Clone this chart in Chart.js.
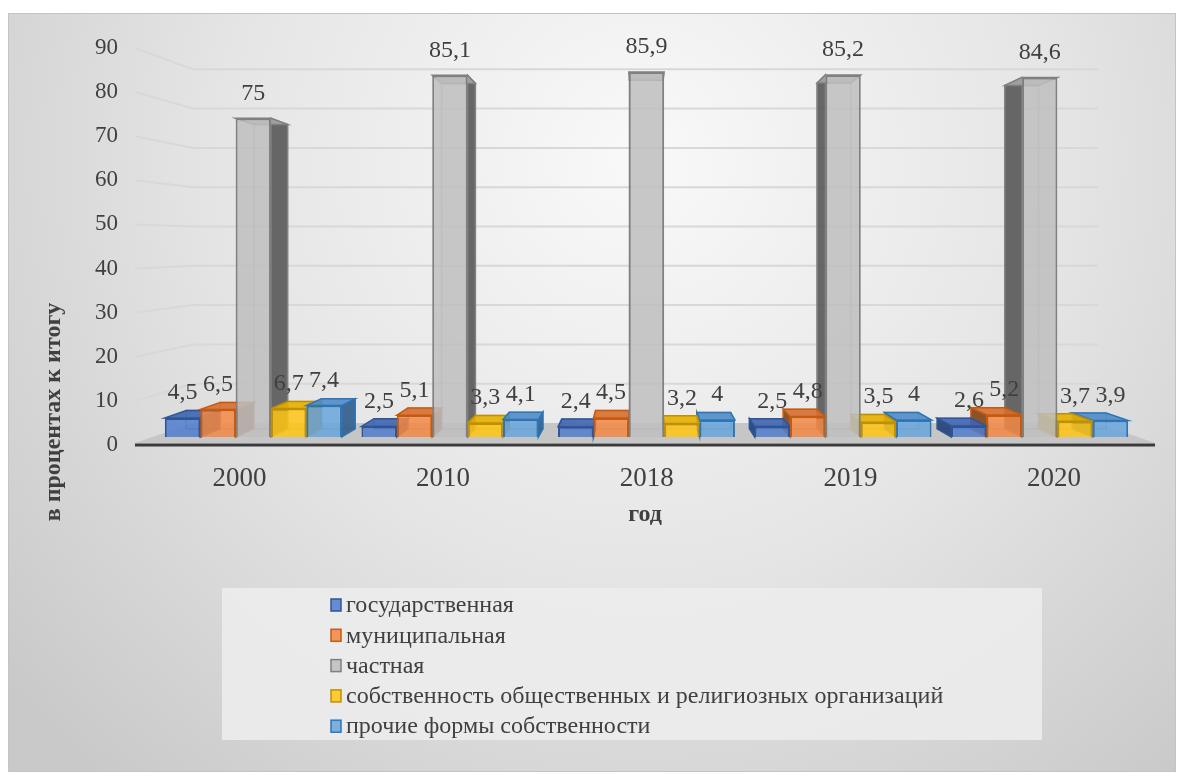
<!DOCTYPE html>
<html lang="ru">
<head>
<meta charset="utf-8">
<title>Формы собственности</title>
<script src="https://cdn.jsdelivr.net/npm/chart.js@4.4.1/dist/chart.umd.min.js"></script>
<style>
  html, body { margin: 0; padding: 0; background: #fff; }
  canvas { display: block; }
</style>
</head>
<body>
<canvas id="grafico" width="1184" height="780"></canvas>
<script>
// datos
var anios = ['2000', '2010', '2018', '2019', '2020'];
var nombres = [
  'государственная',
  'муниципальная',
  'частная',
  'собственность общественных и религиозных организаций',
  'прочие формы собственности'
];
var gosud = [4.5, 2.5, 2.4, 2.5, 2.6];
var munic = [6.5, 5.1, 4.5, 4.8, 5.2];
var chast = [75, 85.1, 85.9, 85.2, 84.6];
var obsch = [6.7, 3.3, 3.2, 3.5, 3.7];
var prochie = [7.4, 4.1, 4, 4, 3.9];
var marcas = [0, 10, 20, 30, 40, 50, 60, 70, 80, 90];
var tituloY = 'в процентах к итогу';
var tituloX = 'год';

var FUENTE = '"Liberation Serif", "Times New Roman", serif';
var TEXTO = '#404040';

// colores: frente, borde, lado, tapa
var estilos = [
  ['rgba(80, 125, 205, 0.86)', '#2f5597', 'rgba(38, 66, 120, 0.92)', 'rgba(62, 100, 175, 0.9)'],
  ['rgba(242, 137, 70, 0.86)', '#c55a11', 'rgba(130, 70, 30, 0.92)', 'rgba(215, 110, 45, 0.9)'],
  ['rgba(190, 190, 190, 0.85)', '#808080', 'rgba(95, 95, 95, 0.95)', 'rgba(165, 165, 165, 0.9)'],
  ['rgba(255, 197, 20, 0.86)', '#bf9000', 'rgba(170, 130, 0, 0.92)', 'rgba(230, 175, 0, 0.9)'],
  ['rgba(105, 165, 220, 0.86)', '#2e75b6', 'rgba(50, 95, 140, 0.92)', 'rgba(80, 140, 200, 0.9)']
];

var PF = { x: 640, y: 255 }; // punto de fuga
var K = 0.045;

function atras(px, py) {
  return [px + K * (PF.x - px), py + K * (PF.y - py)];
}

function poligono(c, pts, relleno, borde) {
  c.beginPath();
  c.moveTo(pts[0][0], pts[0][1]);
  for (var i = 1; i < pts.length; i++) c.lineTo(pts[i][0], pts[i][1]);
  c.closePath();
  c.fillStyle = relleno;
  c.fill();
  c.strokeStyle = borde;
  c.lineWidth = 1.5;
  c.stroke();
}

function coma(v) {
  return String(v).replace('.', ',');
}

var fondo3d = {
  id: 'fondo3d',
  beforeDraw: function (chart) {
    var c = chart.ctx;
    var area = chart.chartArea;
    var yt = chart.scales.yTick, yb = chart.scales.yBack;
    c.save();
    c.fillStyle = '#ffffff';
    c.fillRect(0, 0, chart.width, chart.height);
    var g = c.createRadialGradient(640, 160, 20, 640, 160, 820);
    g.addColorStop(0, '#f8f8f8');
    g.addColorStop(0.5, '#e5e5e5');
    g.addColorStop(1, '#c9c9c9');
    c.fillStyle = g;
    c.fillRect(8, 13, 1168, 759);
    c.strokeStyle = '#c4c4c4';
    c.lineWidth = 1;
    c.strokeRect(8.5, 13.5, 1167, 758);

    // caja de leyenda
    c.fillStyle = 'rgba(236, 236, 236, 0.9)';
    c.fillRect(222, 588, 820, 152);

    // rejilla en perspectiva
    var xa = area.left - 20, xb = area.left + 38, xc = area.right - 40;
    c.strokeStyle = '#d8d8d8';
    c.lineWidth = 2;
    marcas.forEach(function (v) {
      if (v === 0) return;
      c.beginPath();
      c.moveTo(xa, yt.getPixelForValue(v));
      c.lineTo(xb, yb.getPixelForValue(v));
      c.lineTo(xc, yb.getPixelForValue(v));
      c.stroke();
    });

    // piso
    var y0f = yt.getPixelForValue(0), y0b = yb.getPixelForValue(0);
    c.fillStyle = '#c6c6c6';
    c.beginPath();
    c.moveTo(xa, y0f - 2);
    c.lineTo(xb, y0b);
    c.lineTo(xc, y0b);
    c.lineTo(area.right + 17, y0f - 2);
    c.closePath();
    c.fill();
    c.strokeStyle = '#3a3a3a';
    c.lineWidth = 3;
    c.beginPath();
    c.moveTo(xa, y0f);
    c.lineTo(area.right + 17, y0f);
    c.stroke();
    c.restore();
  },

  beforeDatasetsDraw: function (chart) {
    var c = chart.ctx;
    var barras = [];
    chart.data.datasets.forEach(function (ds, d) {
      chart.getDatasetMeta(d).data.forEach(function (el) {
        var p = el.getProps(['x', 'y', 'base', 'width'], true);
        barras.push({ p: p, d: d });
      });
    });
    // las mas lejanas del punto de fuga primero
    barras.sort(function (a, b) {
      return Math.abs(b.p.x - PF.x) - Math.abs(a.p.x - PF.x);
    });
    c.save();
    barras.forEach(function (b) {
      var st = estilos[b.d];
      var l = b.p.x - b.p.width / 2, r = b.p.x + b.p.width / 2;
      var t = b.p.y, bo = b.p.base;
      var tl = atras(l, t), tr = atras(r, t), bl = atras(l, bo), br = atras(r, bo);
      // aristas traseras
      c.strokeStyle = st[1];
      c.globalAlpha = 0.45;
      c.lineWidth = 1.5;
      c.beginPath();
      c.moveTo(tl[0], tl[1]);
      c.lineTo(tr[0], tr[1]);
      c.lineTo(br[0], br[1]);
      c.lineTo(bl[0], bl[1]);
      c.closePath();
      c.stroke();
      c.globalAlpha = 1;
      if (r < PF.x) poligono(c, [[r, t], [r, bo], br, tr], st[2], st[1]);
      if (l > PF.x) poligono(c, [[l, t], [l, bo], bl, tl], st[2], st[1]);
      poligono(c, [[l, t], [r, t], tr, tl], st[3], st[1]);
    });
    c.restore();
  },

  afterDatasetsDraw: function (chart) {
    var c = chart.ctx;
    var xs = chart.scales.x, yt = chart.scales.yTick;
    var area = chart.chartArea;
    c.save();
    c.fillStyle = TEXTO;
    c.textAlign = 'center';
    c.textBaseline = 'middle';

    // etiquetas de datos
    c.font = '24px ' + FUENTE;
    chart.data.datasets.forEach(function (ds, d) {
      chart.getDatasetMeta(d).data.forEach(function (el, i) {
        var p = el.getProps(['x', 'y'], true);
        c.fillText(coma(ds.data[i]), p.x, p.y - 25);
      });
    });

    // marcas del eje Y
    c.textAlign = 'right';
    c.font = '23px ' + FUENTE;
    marcas.forEach(function (v) {
      c.fillText(String(v), area.left - 37, yt.getPixelForValue(v));
    });

    // categorias
    c.textAlign = 'center';
    c.font = '27px ' + FUENTE;
    anios.forEach(function (a, i) {
      var px = xs.getPixelForValue(i);
      c.fillText(a, px + 0.036 * (px - PF.x), 479);
    });

    // titulos de ejes
    c.font = 'bold 24px ' + FUENTE;
    c.fillText(tituloX, 645, 515);
    c.save();
    c.translate(54, 412);
    c.rotate(-Math.PI / 2);
    c.fillText(tituloY, 0, 0);
    c.restore();

    // leyenda
    c.textAlign = 'left';
    c.font = '24px ' + FUENTE;
    chart.data.datasets.forEach(function (ds, d) {
      var yy = 605 + d * 30.3;
      c.fillStyle = estilos[d][0];
      c.fillRect(331, yy - 6, 10, 12);
      c.strokeStyle = estilos[d][1];
      c.lineWidth = 1.5;
      c.strokeRect(331, yy - 6, 10, 12);
      c.fillStyle = TEXTO;
      c.fillText(ds.label, 346, yy + 1);
    });
    c.restore();
  }
};

var series = [gosud, munic, chast, obsch, prochie];
var conjuntos = series.map(function (s, d) {
  return {
    label: nombres[d],
    data: s,
    backgroundColor: estilos[d][0],
    borderColor: estilos[d][1],
    borderWidth: 2,
    barPercentage: 1,
    categoryPercentage: 0.9
  };
});

var grafico = new Chart(document.getElementById('grafico'), {
  type: 'bar',
  data: { labels: anios, datasets: conjuntos },
  plugins: [fondo3d],
  options: {
    responsive: false,
    animation: false,
    devicePixelRatio: 1,
    layout: { padding: { left: 155, right: 46, top: 40, bottom: 335 } },
    plugins: {
      legend: { display: false },
      tooltip: { enabled: false }
    },
    scales: {
      x: { type: 'category', display: false },
      y: { type: 'linear', display: false, min: -1.88, max: 93.41 },
      yTick: { type: 'linear', display: false, min: 0, max: 91.8 },
      yBack: { type: 'linear', display: false, min: -5.6, max: 97.46 }
    }
  }
});
</script>
</body>
</html>
